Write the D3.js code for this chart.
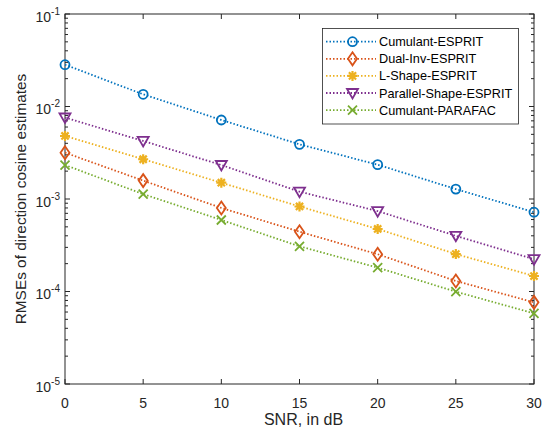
<!DOCTYPE html>
<html>
<head>
<meta charset="utf-8">
<script src="https://cdn.jsdelivr.net/npm/d3@7"></script>
<style>
  body { margin: 0; background: #fff; }
  svg { font-family: "Liberation Sans", Arial, sans-serif; }
</style>
</head>
<body>
<div id="chart"></div>
<script>
const snr = [0, 5, 10, 15, 20, 25, 30];
const seriesNames = ["Cumulant-ESPRIT", "Dual-Inv-ESPRIT", "L-Shape-ESPRIT", "Parallel-Shape-ESPRIT", "Cumulant-PARAFAC"];
const cumulantEsprit = [0.0283, 0.01355, 0.00715, 0.0039, 0.00235, 0.00128, 0.00072];
const dualInvEsprit = [0.00317, 0.00158, 0.00080, 0.000443, 0.000253, 0.00013, 0.0000763];
const lShapeEsprit = [0.0048, 0.00269, 0.0015, 0.00083, 0.000474, 0.000254, 0.000147];
const parallelShapeEsprit = [0.0076, 0.00424, 0.00233, 0.0012, 0.00074, 0.0004, 0.000224];
const cumulantParafac = [0.00233, 0.00113, 0.000593, 0.000308, 0.000181, 0.0000996, 0.000058];
const xTicks = [0, 5, 10, 15, 20, 25, 30];
const yDecades = [-5, -4, -3, -2, -1];

const colors = ["#0072BD", "#D95319", "#EDB120", "#7E2F8E", "#77AC30"];
const markers = ["circle", "diamond", "asterisk", "triangle", "cross"];
const allSeries = [cumulantEsprit, dualInvEsprit, lShapeEsprit, parallelShapeEsprit, cumulantParafac];

const width = 551, height = 430;
const margin = { top: 14, right: 17, bottom: 46, left: 65 };
const axisColor = "#262626";

const svg = d3.select("#chart").append("svg")
  .attr("width", width).attr("height", height);

const x = d3.scaleLinear().domain([0, 30]).range([margin.left, width - margin.right]);
const y = d3.scaleLog().domain([1e-5, 1e-1]).range([height - margin.bottom, margin.top]);

// minor ticks for log axis
const minorTicks = [];
yDecades.slice(0, -1).forEach(e => {
  for (let k = 2; k <= 9; k++) minorTicks.push(k * Math.pow(10, e));
});

const g = svg.append("g");

// box
g.append("rect")
  .attr("x", x(0)).attr("y", y(1e-1))
  .attr("width", x(30) - x(0)).attr("height", y(1e-5) - y(1e-1))
  .attr("fill", "none").attr("stroke", axisColor).attr("stroke-width", 1);

// x ticks (inward, top and bottom)
xTicks.forEach(t => {
  g.append("line").attr("x1", x(t)).attr("x2", x(t))
    .attr("y1", y(1e-5)).attr("y2", y(1e-5) - 5)
    .attr("stroke", axisColor);
  g.append("line").attr("x1", x(t)).attr("x2", x(t))
    .attr("y1", y(1e-1)).attr("y2", y(1e-1) + 5)
    .attr("stroke", axisColor);
  g.append("text").attr("x", x(t)).attr("y", y(1e-5) + 24)
    .attr("text-anchor", "middle").attr("font-size", 14).attr("fill", axisColor)
    .text(t);
});

// y major ticks
yDecades.forEach(e => {
  const v = Math.pow(10, e);
  [[x(0), x(0) + 5], [x(30), x(30) - 5]].forEach(([a, b]) => {
    g.append("line").attr("x1", a).attr("x2", b)
      .attr("y1", y(v)).attr("y2", y(v)).attr("stroke", axisColor);
  });
  const lab = g.append("text").attr("x", x(0) - 5).attr("y", y(v) + 7.5)
    .attr("text-anchor", "end").attr("font-size", 14).attr("fill", axisColor);
  lab.append("tspan").text("10");
  lab.append("tspan").attr("dy", -7).attr("font-size", 10).text(e);
});

// y minor ticks
minorTicks.forEach(v => {
  [[x(0), x(0) + 3], [x(30), x(30) - 3]].forEach(([a, b]) => {
    g.append("line").attr("x1", a).attr("x2", b)
      .attr("y1", y(v)).attr("y2", y(v)).attr("stroke", axisColor);
  });
});

// axis labels
svg.append("text").attr("x", (x(0) + x(30)) / 2 + 4).attr("y", 424.5)
  .attr("text-anchor", "middle").attr("font-size", 16).attr("fill", axisColor)
  .text("SNR, in dB");
svg.append("text")
  .attr("transform", `translate(26, ${(y(1e-1) + y(1e-5)) / 2}) rotate(-90)`)
  .attr("text-anchor", "middle").attr("font-size", 15.4).attr("fill", axisColor)
  .text("RMSEs of direction cosine estimates");

function drawMarker(sel, type, cx, cy, color) {
  const m = sel.append("g").attr("transform", `translate(${cx},${cy})`)
    .attr("fill", "none").attr("stroke", color).attr("stroke-width", 1.8);
  if (type === "circle") {
    m.append("circle").attr("r", 4.5);
  } else if (type === "diamond") {
    m.append("path").attr("d", "M0,-6.5L4.5,0L0,6.5L-4.5,0Z");
  } else if (type === "triangle") {
    m.append("path").attr("d", "M-5.5,-4L5.5,-4L0,5.5Z");
  } else if (type === "cross") {
    m.append("path").attr("d", "M-4.5,-4.5L4.5,4.5M-4.5,4.5L4.5,-4.5");
  } else if (type === "asterisk") {
    m.append("path").attr("d", "M-5,0L5,0M0,-5L0,5M-3.6,-3.6L3.6,3.6M-3.6,3.6L3.6,-3.6")
      .attr("stroke-width", 2.2);
  }
}

const line = d3.line().x(d => x(d[0])).y(d => y(d[1]));

allSeries.forEach((vals, i) => {
  const pts = snr.map((s, j) => [s, vals[j]]);
  g.append("path").datum(pts).attr("d", line)
    .attr("fill", "none").attr("stroke", colors[i])
    .attr("stroke-width", 1.8).attr("stroke-dasharray", "1.5,2");
  pts.forEach(p => drawMarker(g, markers[i], x(p[0]), y(p[1]), colors[i]));
});

// legend
const lg = svg.append("g");
lg.append("rect").attr("x", 322.5).attr("y", 28.5).attr("width", 196).attr("height", 95.5)
  .attr("fill", "#fff").attr("stroke", axisColor).attr("stroke-width", 0.8);
seriesNames.forEach((name, i) => {
  const ly = 41.7 + i * 17.1;
  lg.append("line").attr("x1", 326).attr("x2", 376).attr("y1", ly).attr("y2", ly)
    .attr("stroke", colors[i]).attr("stroke-width", 1.8).attr("stroke-dasharray", "1.5,2");
  drawMarker(lg, markers[i], 352.5, ly, colors[i]);
  lg.append("text").attr("x", 379).attr("y", ly + 4.5)
    .attr("font-size", 12.7).attr("fill", "#000").text(name);
});
</script>
</body>
</html>
